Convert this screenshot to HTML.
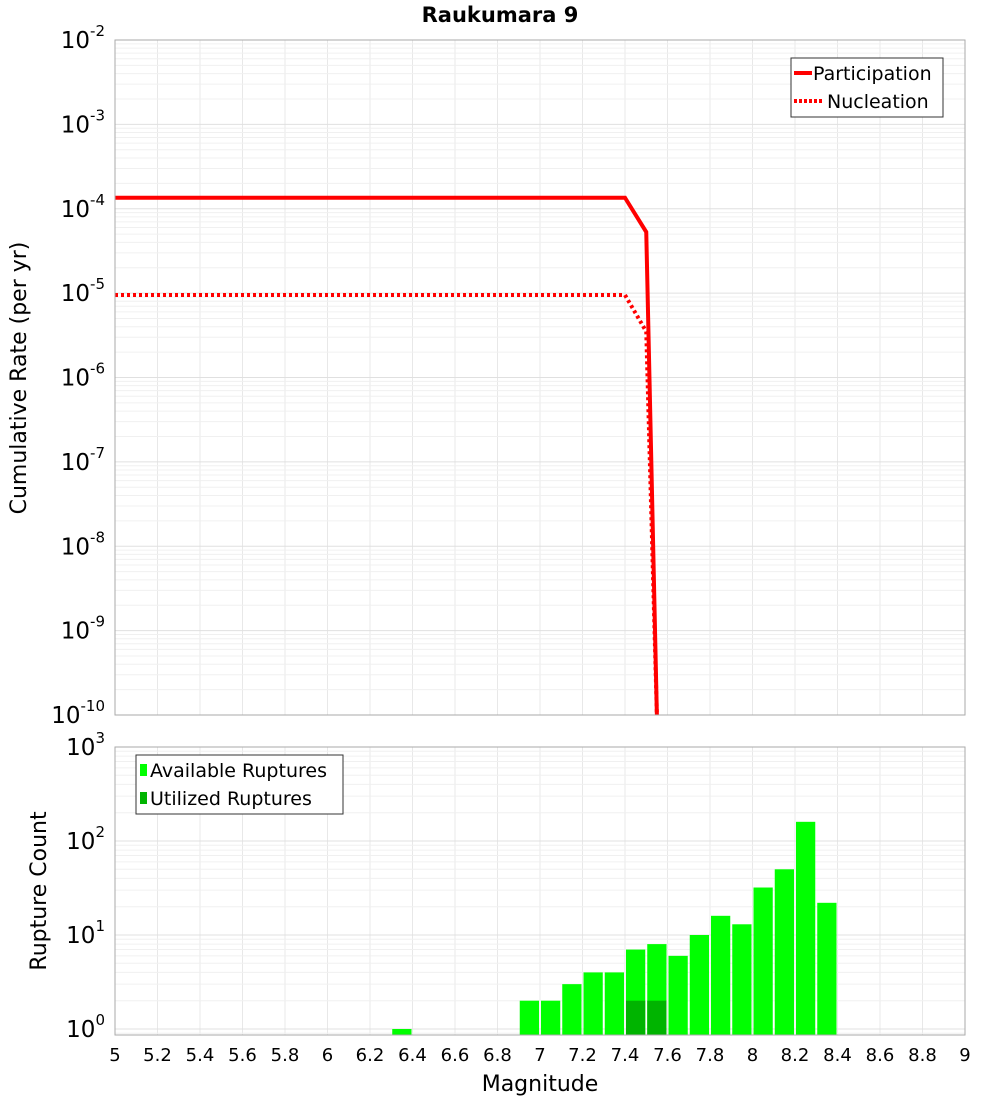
<!DOCTYPE html>
<html><head><meta charset="utf-8"><style>
body{margin:0;background:#fff;font-family:"Liberation Sans","DejaVu Sans",sans-serif}
</style></head><body>
<svg id="c" width="1000" height="1100" xmlns="http://www.w3.org/2000/svg" font-family="DejaVu Sans, Liberation Sans, sans-serif"></svg>
<script>
const partX=[5,7.4,7.5,7.55];
const partY=[1.35e-4,1.35e-4,5.3e-5,1e-10];
const nuclX=[5,7.4,7.5,7.55];
const nuclY=[9.5e-6,9.5e-6,3.5e-6,1e-10];
const binStarts=[6.3,6.9,7.0,7.1,7.2,7.3,7.4,7.5,7.6,7.7,7.8,7.9,8.0,8.1,8.2,8.3];
const availCounts=[1,2,2,3,4,4,7,8,6,10,16,13,32,50,160,22];
const utilStarts=[7.4,7.5];
const utilCounts=[2,2];
const xTicks=[5,5.2,5.4,5.6,5.8,6,6.2,6.4,6.6,6.8,7,7.2,7.4,7.6,7.8,8,8.2,8.4,8.6,8.8,9];
const topExps=[-2,-3,-4,-5,-6,-7,-8,-9,-10];
const botExps=[3,2,1,0];

const svg=document.getElementById('c');
const NS='http://www.w3.org/2000/svg';
function mk(t,a,p){const e=document.createElementNS(NS,t);for(const k in a)e.setAttribute(k,a[k]);(p||svg).appendChild(e);return e;}
const L=115,R=965,T1=40,B1=715,T2=747,B2=1035;
const x=v=>L+(v-5)/4*(R-L);
const y1=v=>T1+(-2-Math.log10(v))/8*(B1-T1);
const dec2=94;
const y2=v=>T2+(3-Math.log10(v))*dec2;

// backgrounds + grids
const g=mk('g',{});


for(const xv of xTicks){mk('line',{x1:x(xv),x2:x(xv),y1:T1,y2:B1,stroke:'#e8e8e8'},g);mk('line',{x1:x(xv),x2:x(xv),y1:T2,y2:B2,stroke:'#e8e8e8'},g);}
for(let e=-10;e<-2;e++)for(let m=1;m<10;m++){const yy=y1(m*Math.pow(10,e));mk('line',{x1:L,x2:R,y1:yy,y2:yy,stroke:m==1?'#e0e0e0':'#f0f0f0'},g);}
for(let e=-1;e<3;e++)for(let m=1;m<10;m++){const yy=y2(m*Math.pow(10,e));if(yy<=B2&&yy>=T2)mk('line',{x1:L,x2:R,y1:yy,y2:yy,stroke:m==1?'#e0e0e0':'#f0f0f0'},g);}

// title
const ti=mk('text',{x:500,y:22,'text-anchor':'middle','font-size':21,'font-weight':'bold'});ti.textContent='Raukumara 9';


// top axis labels
for(const e of topExps){const t=mk('text',{x:105,y:y1(Math.pow(10,e))+8,'text-anchor':'end','font-size':23});
t.innerHTML='10<tspan dy="-12" font-size="15">'+e+'</tspan>';
}
for(const e of botExps){const t=mk('text',{x:105,y:y2(Math.pow(10,e))+8,'text-anchor':'end','font-size':23});
t.innerHTML='10<tspan dy="-12" font-size="15">'+e+'</tspan>';
}
const yt=mk('text',{transform:'translate(26,378) rotate(-90)','text-anchor':'middle','font-size':22});yt.textContent='Cumulative Rate (per yr)';

const yt2=mk('text',{transform:'translate(46,891) rotate(-90)','text-anchor':'middle','font-size':22});yt2.textContent='Rupture Count';


// lines
const clip=mk('clipPath',{id:'cp'});mk('rect',{x:L,y:T1,width:R-L,height:B1-T1},clip);
const pp=mk('polyline',{points:partX.map((v,i)=>x(v)+','+y1(partY[i])).join(' '),fill:'none',stroke:'#f00','stroke-width':4,'clip-path':'url(#cp)'});

const np=mk('polyline',{points:nuclX.map((v,i)=>x(v)+','+y1(nuclY[i])).join(' '),fill:'none',stroke:'#f00','stroke-width':4,'stroke-dasharray':'3 3','clip-path':'url(#cp)'});


// bars
binStarts.forEach((s,i)=>{const b=mk('rect',{x:x(s)+1,y:y2(availCounts[i]),width:x(s+0.1)-x(s)-2,height:B2-y2(availCounts[i]),fill:'#00ff00'});
});
utilStarts.forEach((s,i)=>{const b=mk('rect',{x:x(s)+1,y:y2(utilCounts[i]),width:x(s+0.1)-x(s)-2,height:B2-y2(utilCounts[i]),fill:'#00b400'});
});

// frames
mk('rect',{x:L,y:T1,width:R-L,height:B1-T1,fill:'none',stroke:'#aaa'});
mk('rect',{x:L,y:T2,width:R-L,height:B2-T2,fill:'none',stroke:'#aaa'});

// x ticks
for(const xv of xTicks){const t=mk('text',{x:x(xv),y:1061,'text-anchor':'middle','font-size':18});t.textContent=String(xv);
}
const xt=mk('text',{x:540,y:1091,'text-anchor':'middle','font-size':22});xt.textContent='Magnitude';


// legends
const lg=mk('g',{});
mk('rect',{x:791,y:58,width:152,height:59,fill:'#fff',stroke:'#333'},lg);
mk('line',{x1:794,x2:812,y1:73,y2:73,stroke:'#f00','stroke-width':4},lg);
mk('line',{x1:794,x2:822,y1:101,y2:101,stroke:'#f00','stroke-width':4,'stroke-dasharray':'3 2'},lg);
let t=mk('text',{x:813,y:80,'font-size':19},lg);t.textContent='Participation';
t=mk('text',{x:827,y:108,'font-size':19},lg);t.textContent='Nucleation';
const lg2=mk('g',{});
mk('rect',{x:136,y:755,width:207,height:59,fill:'#fff',stroke:'#333'},lg2);
mk('rect',{x:140,y:764,width:7,height:12,fill:'#00ff00'},lg2);
mk('rect',{x:140,y:792,width:7,height:12,fill:'#00b400'},lg2);
t=mk('text',{x:150,y:777,'font-size':19},lg2);t.textContent='Available Ruptures';
t=mk('text',{x:150,y:805,'font-size':19},lg2);t.textContent='Utilized Ruptures';
</script>
</body></html>
